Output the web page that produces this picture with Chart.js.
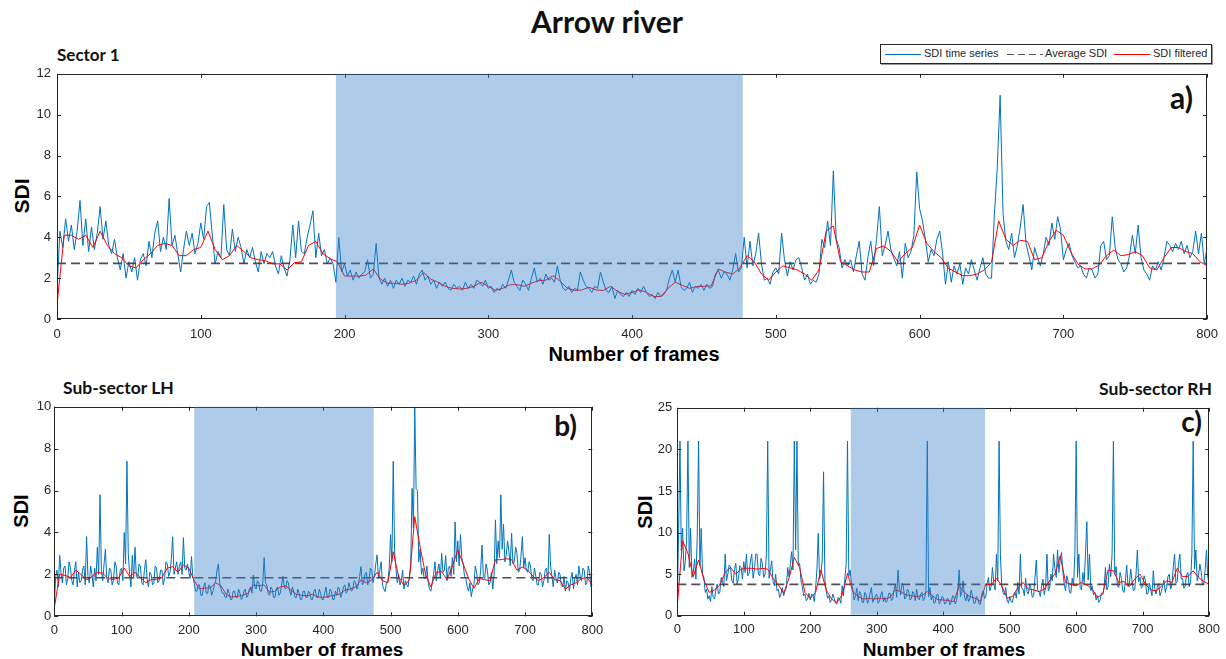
<!DOCTYPE html>
<html>
<head>
<meta charset="utf-8">
<script src="https://cdn.jsdelivr.net/npm/chart.js@4.4.1/dist/chart.umd.min.js"></script>
<style>
  html, body { margin: 0; padding: 0; background: #fff; }
  #fig { position: relative; width: 1226px; height: 659px; overflow: hidden; font-family: "Liberation Sans", Arial, sans-serif; color: #000; }
  #fig canvas { position: absolute; }
  .t { position: absolute; white-space: nowrap; line-height: 1; }
  .head { font-family: Lato, "Open Sans", sans-serif; font-weight: 700; color: #111; }
  .ax { font-weight: 700; }
  .mid { transform: translateX(-50%); }
  .rot { transform: translate(-50%, -50%) rotate(-90deg); }
  #legend { position: absolute; left: 880px; top: 44px; width: 330px; height: 18px; border: 1px solid #262626; background: #fff; box-shadow: 1px 1px 0 #9a9a9a; font-size: 11px; color: #262626; }
  #legend .ln { position: absolute; top: 9px; width: 36px; height: 0; }
  #legend .tx { position: absolute; top: 3px; line-height: 1; }
</style>
</head>
<body>
<div id="fig">
  <div class="t head mid" style="left:607px;top:6px;font-size:30px">Arrow river</div>

  <div class="t head" style="left:57px;top:46px;font-size:17px">Sector 1</div>
  <div class="t head" style="right:33px;top:82px;font-size:30px">a)</div>
  <div class="t ax rot" style="left:21px;top:196px;font-size:21px">SDI</div>
  <div class="t ax mid" style="left:634px;top:344px;font-size:20px">Number of frames</div>

  <div class="t head" style="left:63px;top:379px;font-size:17.5px">Sub-sector LH</div>
  <div class="t head" style="right:649px;top:411px;font-size:28px">b)</div>
  <div class="t ax rot" style="left:21px;top:511px;font-size:20px">SDI</div>
  <div class="t ax mid" style="left:322px;top:640px;font-size:19px">Number of frames</div>

  <div class="t head" style="right:14px;top:380px;font-size:17.5px">Sub-sector RH</div>
  <div class="t head" style="right:24px;top:407px;font-size:28px">c)</div>
  <div class="t ax rot" style="left:645px;top:512px;font-size:20px">SDI</div>
  <div class="t ax mid" style="left:944px;top:640px;font-size:19px">Number of frames</div>

  <div id="legend">
    <div class="ln" style="left:4px;border-top:1.5px solid #0072BD"></div>
    <div class="tx" style="left:43px">SDI time series</div>
    <div class="ln" style="left:126px;top:8.5px;height:1.5px;background:repeating-linear-gradient(90deg,#555 0 7px,transparent 7px 11px)"></div>
    <div class="tx" style="left:164px">Average SDI</div>
    <div class="ln" style="left:233px;border-top:1.5px solid #ff0000"></div>
    <div class="tx" style="left:272px">SDI filtered</div>
  </div>

  <canvas id="cA" width="1226" height="310" style="left:0;top:60px"></canvas>
  <canvas id="cB" width="613" height="265" style="left:0;top:395px"></canvas>
  <canvas id="cC" width="613" height="265" style="left:613px;top:395px"></canvas>
</div>

<script>
// Sector 1: SDI every 2nd frame, filtered SDI every 5th frame
const RAW_STEP_A = 2;
const SDI_A = [
  1.4, 4.3, 3.5, 4.9, 3.8, 4.6, 3.4, 4.3, 5.8, 3.6,
  4.9, 3.3, 4.5, 3.4, 4.2, 5.5, 3.9, 4.8, 3.6, 3.2,
  3.9, 3.0, 2.4, 3.2, 2.0, 2.8, 2.3, 3.0, 1.9, 2.9,
  3.2, 2.6, 3.8, 3.0, 4.2, 4.8, 3.3, 4.0, 3.4, 5.9,
  3.6, 4.1, 3.2, 2.3, 3.4, 4.3, 3.6, 4.2, 3.2, 3.7,
  4.7, 3.9, 5.5, 5.7, 4.1, 2.7, 3.3, 3.0, 5.6, 3.4,
  3.1, 4.4, 3.3, 4.0, 3.5, 2.7, 3.4, 3.0, 3.5, 2.8,
  2.3, 3.3, 2.7, 3.2, 3.0, 3.3, 2.6, 2.2, 3.1, 2.5,
  2.1, 2.9, 4.6, 3.0, 4.8, 3.3, 3.2, 4.0, 4.6, 5.3,
  3.0, 4.2, 3.1, 3.4, 2.7, 3.0, 2.7, 1.8, 4.0, 2.3,
  2.7, 2.1, 2.4, 1.9, 2.3, 2.0, 2.2, 2.3, 2.9, 2.0,
  2.2, 3.7, 2.0, 1.7, 2.0, 1.6, 1.9, 1.5, 1.9, 1.7,
  2.0, 1.6, 1.9, 1.8, 2.1, 1.7, 2.2, 2.4, 1.9, 2.1,
  1.7, 1.9, 1.5, 1.8, 1.6, 1.8, 1.5, 1.4, 1.7, 1.5,
  1.6, 1.4, 1.8, 1.5, 1.7, 1.5, 1.9, 1.8, 1.6, 1.9,
  1.5, 1.6, 1.3, 1.5, 1.4, 1.7, 1.5, 1.9, 2.4, 1.8,
  1.6, 1.4, 1.9, 1.7, 1.4, 2.0, 2.5, 1.8, 2.0, 1.7,
  2.2, 1.9, 2.0, 1.8, 2.6, 1.9, 1.5, 1.4, 1.6, 1.3,
  1.5, 1.4, 2.3, 1.9, 1.6, 1.5, 1.3, 1.6, 1.5, 2.3,
  1.8, 1.4, 1.3, 1.6, 1.0, 1.4, 1.2, 1.1, 1.3, 1.1,
  1.4, 1.2, 1.5, 1.3, 1.6, 1.3, 1.1, 1.2, 1.0, 1.3,
  1.1, 1.2, 1.4, 2.0, 2.4, 1.8, 2.4, 1.6, 1.4, 1.5,
  1.8, 1.3, 1.6, 1.5, 1.7, 1.4, 1.7, 1.5, 1.6, 2.2,
  2.4, 2.0, 2.3, 2.2, 1.9, 2.4, 3.2, 2.3, 2.5, 4.0,
  2.5, 3.8, 2.6, 3.2, 4.2, 2.7, 1.9, 2.0, 1.7, 2.3,
  2.5, 2.2, 4.2, 2.9, 2.1, 2.8, 2.4, 2.9, 3.0, 2.5,
  1.9, 2.2, 1.7, 1.9, 1.8, 2.2, 3.9, 3.5, 4.8, 3.6,
  7.25, 3.9, 3.5, 2.5, 2.9, 2.6, 2.9, 2.3, 3.1, 3.8,
  2.2, 1.9, 3.0, 3.8, 2.6, 3.9, 5.5, 3.1, 3.6, 4.3,
  3.4, 3.0, 2.6, 3.3, 2.0, 3.7, 3.0, 3.3, 4.1, 7.2,
  5.4, 4.8, 3.9, 2.8, 3.4, 3.1, 3.9, 4.3, 3.2, 1.7,
  2.8, 1.8, 2.6, 2.2, 2.7, 1.7, 2.5, 2.2, 2.9, 2.4,
  1.9, 2.5, 3.0, 2.2, 2.0, 2.0, 5.1, 7.4, 10.95, 5.2,
  3.8, 3.4, 4.2, 3.0, 3.6, 4.5, 5.6, 3.7, 3.1, 2.4,
  3.5, 3.0, 2.6, 3.2, 4.0, 3.6, 4.7, 3.9, 5.0, 4.4,
  2.9, 3.4, 3.7, 3.1, 2.8, 2.5, 2.6, 2.2, 2.0, 2.5,
  2.4, 2.0, 2.2, 3.6, 3.8, 2.9, 3.1, 5.0, 3.5, 2.9,
  2.7, 2.3, 2.5, 3.1, 4.1, 3.2, 4.6, 3.0, 2.4, 2.2,
  1.9, 2.6, 2.4, 2.8, 2.4, 3.0, 3.8, 3.6, 3.3, 3.7,
  3.4, 3.8, 3.2, 3.6, 3.0, 3.3, 4.3, 3.2, 4.2, 2.7,
  3.5
];
const FILT_STEP_A = 5;
const FILT_A = [
  0.7, 4.1, 4.1, 3.9, 4.1, 3.5, 4.3, 3.6, 3.2, 3.0,
  2.6, 2.5, 2.9, 3.2, 3.6, 3.7, 3.6, 3.1, 3.1, 3.4,
  3.5, 4.3, 3.4, 2.9, 3.1, 3.6, 3.3, 3.0, 2.9, 2.85,
  2.7, 2.7, 2.4, 2.75, 2.8, 3.6, 3.8, 3.2, 2.95, 2.8,
  2.1, 2.1, 2.1, 2.15, 2.45, 1.95, 1.75, 1.75, 1.7, 1.75,
  1.9, 2.28, 1.95, 1.8, 1.6, 1.5, 1.47, 1.5, 1.6, 1.8,
  1.6, 1.4, 1.5, 1.68, 1.68, 1.6, 1.75, 1.88, 1.9, 2.12,
  1.85, 1.5, 1.4, 1.42, 1.55, 1.42, 1.4, 1.6, 1.35, 1.2,
  1.3, 1.43, 1.3, 1.1, 1.1, 1.5, 1.8, 1.65, 1.5, 1.59,
  1.6, 1.62, 2.45, 2.3, 2.2, 2.5, 3.1, 2.8, 2.2, 1.9,
  2.3, 2.6, 2.5, 2.4, 2.2, 1.9, 2.4, 4.3, 4.55, 2.8,
  2.6, 2.4, 2.3, 2.3, 3.45, 3.58, 3.3, 2.8, 3.2, 3.5,
  4.6, 3.7, 3.3, 3.0, 2.48, 2.3, 2.12, 2.12, 2.2, 2.4,
  2.77, 4.8, 3.9, 3.6, 3.85, 3.8, 2.9, 3.0, 3.8, 4.34,
  4.1, 3.3, 2.7, 2.45, 2.45, 2.65, 3.1, 3.37, 3.1, 3.15,
  3.3, 3.1, 2.5, 2.4, 3.0, 3.5, 3.5, 3.3, 3.2, 2.8,
  2.6
];
const AVG_A = 2.72;
const SHADE_A = [194, 477];

// Sub-sector LH: SDI every 2nd frame, filtered every 8th frame
const RAW_STEP_B = 2;
const SDI_B = [
  0.5, 1.9, 2.2, 1.4, 2.9, 2.1, 1.6, 2.3, 2.4, 1.5, 1.8, 2.6, 2.3, 1.7, 1.5, 2.2, 2.6, 1.4, 2.1, 1.6,
  1.7, 2.2, 2.4, 1.5, 3.8, 1.9, 1.6, 2.4, 2.0, 1.4, 2.3, 1.7, 3.3, 2.0, 5.8, 2.2, 1.7, 2.5, 3.2, 1.8,
  1.6, 2.3, 2.2, 1.5, 1.7, 2.6, 2.4, 1.6, 1.5, 2.2, 2.3, 1.7, 4.0, 2.5, 7.4, 3.0, 2.0, 1.4, 2.9, 1.8,
  3.3, 1.9, 1.8, 2.5, 2.4, 1.6, 1.5, 2.2, 2.7, 1.8, 1.4, 2.1, 2.0, 1.5, 1.6, 2.4, 2.3, 1.6, 1.7, 2.2,
  2.2, 1.5, 1.8, 2.6, 2.5, 1.9, 2.1, 2.7, 3.8, 2.0, 2.3, 2.6, 2.0, 2.4, 2.6, 2.0, 3.75, 2.3, 2.2, 2.5,
  2.1, 1.8, 2.85, 1.9, 1.6, 1.2, 1.2, 1.5, 1.5, 1.0, 1.0, 1.4, 1.6, 1.1, 1.1, 1.5, 1.4, 1.0, 1.2, 1.5,
  1.7, 2.2, 2.5, 1.6, 1.3, 1.1, 1.1, 0.9, 0.9, 1.3, 1.1, 0.8, 0.8, 1.2, 1.2, 0.9, 0.9, 1.3, 1.1, 0.8,
  0.9, 1.2, 1.3, 0.9, 1.0, 1.3, 1.4, 1.1, 1.97, 1.4, 1.3, 1.7, 1.6, 1.2, 1.2, 1.6, 2.8, 1.6, 1.5, 1.1,
  1.0, 1.4, 1.3, 0.9, 0.9, 1.3, 1.4, 1.0, 1.1, 1.5, 1.9, 1.4, 1.3, 1.7, 1.6, 1.2, 1.0, 1.4, 1.2, 0.9,
  0.9, 1.3, 1.1, 0.8, 0.8, 1.2, 1.2, 0.9, 0.9, 1.2, 1.1, 0.8, 0.8, 1.2, 1.3, 0.9, 0.9, 1.3, 1.1, 0.8,
  0.8, 1.1, 1.4, 0.9, 0.9, 1.3, 1.2, 0.8, 0.8, 1.2, 1.0, 1.4, 1.3, 0.9, 1.1, 1.4, 1.5, 1.1, 1.2, 1.6,
  1.4, 1.2, 1.3, 1.7, 1.6, 1.3, 1.5, 1.9, 2.37, 1.5, 1.6, 2.0, 2.1, 1.5, 1.7, 2.3, 2.2, 1.6, 1.9, 2.5,
  2.93, 1.8, 2.2, 2.6, 1.5, 1.3, 1.18, 1.6, 1.7, 2.3, 3.9, 2.6, 7.4, 3.1, 2.3, 1.6, 2.0, 1.5, 1.7, 2.2,
  1.3, 1.7, 1.5, 1.4, 1.9, 2.4, 6.1, 4.2, 10.0, 6.1, 6.0, 2.6, 3.2, 2.0, 2.3, 1.8, 1.8, 2.4, 1.6, 1.3,
  1.2, 1.6, 2.0, 2.6, 1.7, 2.2, 2.5, 1.8, 3.0, 2.1, 2.2, 2.9, 1.7, 2.3, 2.4, 1.9, 2.8, 2.0, 4.5, 2.6,
  3.6, 2.4, 3.9, 2.8, 2.5, 1.9, 1.8, 1.4, 1.2, 1.6, 0.94, 1.3, 1.5, 2.4, 2.1, 1.5, 1.6, 2.2, 3.4, 1.9,
  1.8, 2.5, 2.2, 1.5, 1.6, 2.1, 1.3, 2.0, 4.6, 2.5, 3.6, 2.8, 5.8, 3.2, 4.4, 2.6, 2.9, 3.6, 3.1, 2.4,
  3.96, 2.5, 2.6, 3.3, 3.0, 2.1, 2.2, 2.9, 3.8, 2.3, 2.8, 2.2, 2.1, 2.6, 2.4, 1.8, 1.7, 2.3, 1.9, 1.5,
  1.5, 2.1, 2.0, 1.4, 1.7, 2.2, 2.3, 1.6, 3.9, 2.4, 1.9, 1.4, 2.2, 1.8, 1.6, 2.1, 2.0, 1.5, 1.4, 1.9,
  1.2, 1.7, 1.6, 1.2, 1.8, 2.1, 1.3, 1.8, 2.0, 1.5, 2.4, 1.9, 1.7, 2.3, 2.2, 1.5, 1.6, 2.4, 2.1, 1.4,
  1.5
];
const FILT_STEP_B = 8;
const FILT_B = [
  0.4, 2.0, 1.95, 1.85, 2.2, 2.0, 1.73, 1.9, 2.1, 2.05,
  1.8, 1.75, 1.85, 2.3, 1.9, 2.1, 1.85, 1.6, 1.75, 1.75,
  1.85, 2.3, 2.37, 2.1, 2.45, 2.3, 1.7, 1.3, 1.35, 1.35,
  1.6, 1.45, 1.02, 0.92, 0.95, 1.0, 1.1, 1.5, 1.45, 1.5,
  1.15, 1.2, 1.4, 1.45, 1.25, 1.05, 1.0, 0.97, 1.05, 0.92,
  0.9, 0.95, 1.0, 1.05, 1.25, 1.3, 1.4, 1.73, 1.6, 1.73,
  2.1, 1.7, 1.6, 3.08, 1.9, 1.45, 1.75, 4.75, 3.3, 2.0,
  1.4, 2.1, 2.13, 1.75, 2.4, 3.16, 2.5, 1.8, 1.34, 1.8,
  1.75, 1.7, 2.7, 2.7, 2.75, 2.7, 2.2, 2.35, 2.2, 1.9,
  1.7, 1.85, 2.1, 1.75, 1.7, 1.3, 1.5, 1.6, 1.8, 1.85,
  1.5
];
const AVG_B = 1.84;
const SHADE_B = [208, 475];

// Sub-sector RH: SDI every 2nd frame (spikes saturate at 21), filtered every 8th frame
const RAW_STEP_C = 2;
const SDI_C = [
  1.2, 10.5, 21, 7.8, 10.5, 5.4, 6.5, 9.0, 21, 5.8, 10.5, 4.6, 5.2, 6.8, 4.4, 9.5, 21, 6.0, 10.5, 5.0,
  4.6, 2.8, 3.2, 2.0, 2.4, 1.7, 3.5, 2.2, 2.0, 3.1, 3.8, 2.6, 2.9, 4.6, 4.1, 3.5, 7.4, 4.2, 5.0, 6.1,
  5.9, 4.2, 3.9, 5.6, 6.3, 3.8, 4.5, 6.0, 5.8, 4.4, 6.5, 5.2, 7.4, 4.8, 5.1, 6.6, 7.4, 4.5, 5.5, 7.4,
  7.4, 5.0, 4.8, 6.9, 6.2, 4.6, 5.0, 7.4, 21, 4.5, 5.5, 6.6, 4.1, 3.6, 5.0, 3.0, 3.2, 2.2, 2.6, 3.4,
  2.4, 3.0, 3.3, 5.8, 4.7, 6.2, 7.7, 5.5, 21, 7.9, 21, 6.0, 6.3, 4.2, 3.5, 2.4, 2.6, 1.8, 2.0, 2.7,
  1.9, 2.6, 2.5, 1.7, 3.3, 5.5, 9.9, 4.4, 5.1, 6.7, 17.3, 4.3, 3.0, 2.1, 2.4, 1.6, 1.9, 2.6, 2.1, 1.5,
  1.4, 2.2, 2.0, 1.5, 3.6, 2.4, 4.5, 6.2, 21, 4.8, 5.5, 3.8, 3.2, 1.9, 2.4, 3.3, 1.8, 2.9, 2.7, 1.6,
  1.6, 2.8, 2.5, 1.5, 1.9, 2.7, 3.4, 1.6, 2.0, 2.4, 2.6, 1.5, 1.7, 2.5, 2.9, 1.7, 2.2, 1.6, 1.8, 2.7,
  2.7, 1.8, 2.0, 3.1, 3.8, 2.2, 5.5, 3.3, 2.5, 3.9, 3.6, 2.0, 2.2, 3.2, 3.0, 1.9, 2.0, 2.9, 2.7, 1.8,
  3.2, 2.1, 1.9, 2.6, 2.8, 1.8, 2.1, 3.0, 21, 2.3, 3.4, 1.9, 2.4, 1.5, 1.6, 2.5, 2.6, 1.4, 1.7, 2.3,
  2.2, 1.4, 1.5, 2.1, 2.0, 1.3, 1.6, 2.4, 2.3, 1.4, 1.8, 3.0, 5.5, 2.3, 2.9, 4.2, 2.2, 1.8, 2.6, 1.7,
  2.0, 3.1, 2.4, 1.5, 1.5, 2.3, 2.1, 1.4, 1.4, 2.6, 3.0, 2.1, 2.2, 3.8, 4.6, 3.0, 3.5, 5.8, 4.0, 3.1,
  7.4, 4.2, 21, 7.4, 3.6, 2.8, 2.5, 3.4, 1.9, 1.5, 2.3, 1.7, 1.6, 2.4, 2.8, 2.1, 4.0, 2.6, 7.4, 3.3,
  3.2, 2.4, 4.5, 2.9, 2.6, 3.8, 3.3, 2.2, 2.4, 4.6, 6.7, 3.1, 2.9, 2.3, 3.6, 4.4, 2.5, 3.4, 7.4, 3.0,
  3.3, 5.0, 4.2, 7.4, 5.6, 4.6, 7.9, 5.2, 6.8, 7.6, 5.2, 3.8, 3.0, 4.8, 4.1, 2.8, 2.7, 4.5, 3.6, 7.4,
  21, 4.6, 7.4, 3.4, 3.1, 5.2, 4.0, 7.4, 11.3, 4.3, 7.4, 3.0, 3.6, 2.5, 2.8, 1.9, 2.4, 1.6, 1.9, 2.7,
  2.6, 3.4, 5.8, 3.1, 3.5, 6.2, 4.7, 7.4, 21, 5.0, 5.9, 3.6, 3.4, 5.2, 4.5, 3.0, 2.8, 4.2, 6.1, 3.5,
  3.8, 5.6, 4.2, 3.0, 3.1, 5.0, 7.9, 4.1, 4.6, 3.3, 3.5, 4.8, 4.3, 2.6, 2.7, 3.9, 3.2, 2.4, 5.4, 3.3,
  2.6, 3.4, 3.9, 2.4, 2.9, 3.6, 4.3, 2.8, 3.4, 4.7, 5.0, 3.2, 3.7, 5.8, 7.4, 3.9, 4.1, 6.3, 7.4, 4.4,
  4.5, 3.3, 3.6, 4.9, 5.2, 3.5, 4.0, 7.4, 21, 5.6, 7.9, 4.2, 4.8, 6.2, 5.3, 3.7, 3.9, 5.5, 7.9, 4.6,
  4.0
];
const FILT_STEP_C = 8;
const FILT_C = [
  1.3, 9.0, 7.5, 4.7, 6.7, 4.3, 2.8, 3.1, 3.7, 5.2,
  5.8, 5.0, 5.6, 5.7, 5.7, 5.6, 5.7, 5.6, 4.5, 3.7,
  2.7, 4.5, 7.0, 5.8, 2.8, 2.1, 2.8, 5.5, 3.1, 2.0,
  1.6, 2.5, 5.1, 2.9, 2.3, 2.0, 2.1, 2.0, 2.1, 2.0,
  2.2, 3.1, 2.9, 2.5, 2.4, 2.3, 2.4, 2.9, 2.4, 1.9,
  1.9, 1.8, 1.7, 3.6, 2.8, 2.3, 2.1, 1.7, 3.8, 3.7,
  4.5, 3.6, 2.1, 2.3, 3.3, 4.0, 3.2, 3.1, 2.9, 3.2,
  4.2, 5.0, 7.2, 4.0, 3.8, 3.6, 4.0, 3.7, 3.2, 2.2,
  2.6, 5.5, 5.4, 4.0, 4.1, 3.5, 4.4, 5.0, 3.8, 3.1,
  3.0, 3.5, 4.2, 4.0, 5.7, 4.7, 4.7, 5.4, 4.6, 4.1,
  3.8
];
const AVG_C = 3.77;
const SHADE_C = [261, 463];

const FRAMES_MAX = 800;
const FRAME_TICK = 100;

const BLUE = '#0072BD';
const RED = '#FF0000';
const GREY = 'rgba(60,60,60,0.9)';
const INK = '#262626';
const TICK_FONT = { family: '"Liberation Sans", Arial, sans-serif', size: 13 };

function series(values, step) {
  return values.map((v, i) => ({ x: i * step, y: v }));
}

// Box around the axes with inward tick marks on all four sides,
// then the highlighted frame range laid over everything as a translucent band.
const frame = {
  id: 'frame',
  afterDatasetsDraw(chart, args, opts) {
    const { ctx, chartArea: a, scales: { x, y } } = chart;
    const len = 4;
    ctx.save();
    ctx.strokeStyle = INK;
    ctx.lineWidth = 1;
    ctx.beginPath();
    x.ticks.forEach((t) => {
      const px = Math.round(x.getPixelForValue(t.value)) + 0.5;
      ctx.moveTo(px, a.bottom); ctx.lineTo(px, a.bottom - len);
      ctx.moveTo(px, a.top); ctx.lineTo(px, a.top + len);
    });
    y.ticks.forEach((t) => {
      const py = Math.round(y.getPixelForValue(t.value)) + 0.5;
      ctx.moveTo(a.left, py); ctx.lineTo(a.left + len, py);
      ctx.moveTo(a.right, py); ctx.lineTo(a.right - len, py);
    });
    ctx.stroke();
    ctx.strokeRect(Math.round(a.left) + 0.5, Math.round(a.top) + 0.5,
      Math.round(a.right) - Math.round(a.left) - 1, Math.round(a.bottom) - Math.round(a.top) - 1);

    if (opts.shade) {
      const x0 = x.getPixelForValue(opts.shade[0]);
      const x1 = x.getPixelForValue(opts.shade[1]);
      ctx.fillStyle = 'rgba(52,127,202,0.4)';
      ctx.fillRect(x0, a.top, x1 - x0, a.bottom - a.top - 1);
    }
    ctx.restore();
  },
};

function panel(id, p) {
  new Chart(document.getElementById(id), {
    type: 'line',
    data: {
      datasets: [
        { label: 'SDI time series', data: series(p.raw, p.rawStep), borderColor: BLUE, borderWidth: 1, order: 3 },
        { label: 'Average SDI', data: [{ x: 0, y: p.avg }, { x: FRAMES_MAX, y: p.avg }],
          borderColor: GREY, borderWidth: 1.6, borderDash: [9, 5], order: 2 },
        { label: 'SDI filtered', data: series(p.filt, p.filtStep), borderColor: RED, borderWidth: 1, order: 1 },
      ],
    },
    options: {
      responsive: false,
      animation: false,
      devicePixelRatio: 1,
      elements: { point: { radius: 0 }, line: { tension: 0, borderJoinStyle: 'round' } },
      layout: { padding: p.pad },
      scales: {
        x: {
          type: 'linear', min: 0, max: FRAMES_MAX,
          grid: { display: false, drawTicks: false },
          border: { display: false },
          ticks: { stepSize: FRAME_TICK, maxRotation: 0, autoSkip: false, padding: p.xPad, color: INK, font: TICK_FONT },
          afterFit: (s) => { s.height = p.xH; },
        },
        y: {
          min: 0, max: p.yMax,
          grid: { display: false, drawTicks: false },
          border: { display: false },
          ticks: { stepSize: p.yStep, padding: p.yPad, color: INK, font: TICK_FONT },
          afterFit: (s) => { s.width = p.yW; },
        },
      },
      plugins: { legend: { display: false }, tooltip: { enabled: false }, frame: { shade: p.shade } },
    },
    plugins: [frame],
  });
}

panel('cA', {
  raw: SDI_A, rawStep: RAW_STEP_A, filt: FILT_A, filtStep: FILT_STEP_A, avg: AVG_A, shade: SHADE_A,
  yMax: 12, yStep: 2, pad: { left: 0, right: 13, top: 12, bottom: 0 }, yW: 57, xH: 51, xPad: 8, yPad: 6,
});
panel('cB', {
  raw: SDI_B, rawStep: RAW_STEP_B, filt: FILT_B, filtStep: FILT_STEP_B, avg: AVG_B, shade: SHADE_B,
  yMax: 10, yStep: 2, pad: { left: 0, right: 20.7, top: 11.7, bottom: 0 }, yW: 54.3, xH: 43.7, xPad: 6, yPad: 3,
});
panel('cC', {
  raw: SDI_C, rawStep: RAW_STEP_C, filt: FILT_C, filtStep: FILT_STEP_C, avg: AVG_C, shade: SHADE_C,
  yMax: 25, yStep: 5, pad: { left: 0, right: 14.3, top: 12.3, bottom: 0 }, yW: 64.3, xH: 44.3, xPad: 6, yPad: 5,
});
</script>
</body>
</html>
